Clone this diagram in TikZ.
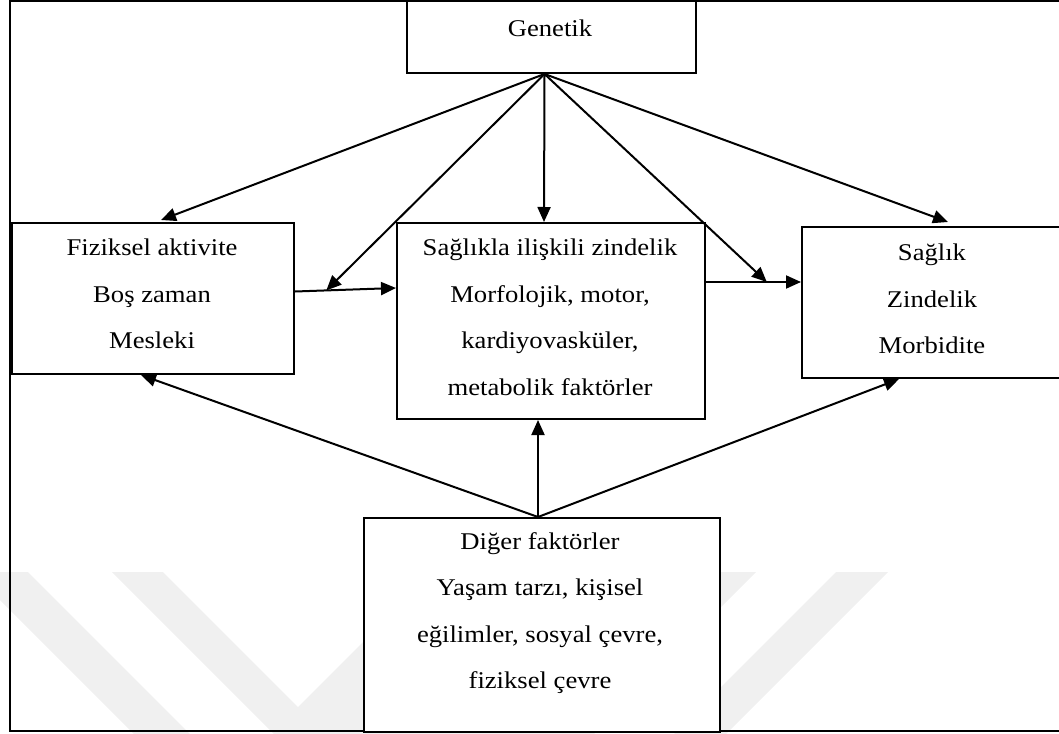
\documentclass[tikz,border=0pt]{standalone}
\usepackage{fontspec}
\setmainfont{Liberation Serif}[FakeStretch=1.11]
\usetikzlibrary{arrows.meta,calc}

\begin{document}
\begin{tikzpicture}[x=1pt,y=-1pt,
  box/.style={draw=black, line width=2pt, fill=white, inner sep=0pt, anchor=north west},
  lbl/.style={font=\fontsize{24}{46.5}\selectfont, align=center, inner sep=0pt},
  link/.style={line width=2pt, -{Triangle[length=15pt,width=13pt]}},
  wmshade/.style={fill=black!6, draw=none}]

\useasboundingbox (0,0) rectangle (1059,733);

% faint background chevrons and the outer frame
\begin{scope}
  \clip (0,0) rectangle (1059,733);
  \fill[wmshade] (-28,572) -- (28,572) -- (198,742) -- (142,742) -- cycle;
  \fill[wmshade] (112,572) -- (163,572) -- (298,707) -- (433,572) -- (756,572)
                 -- (586,742) -- (282,742) -- cycle;
  \fill[wmshade] (836,572) -- (888,572) -- (718,742) -- (666,742) -- cycle;
  \draw[line width=2pt] (10,1) rectangle (1070,731);
\end{scope}

% boxes
\node[box, minimum width=289pt, minimum height=72pt]  (gen) at (406,0)   {};
\node[box, minimum width=282pt, minimum height=151pt] (fiz) at (11,222)  {};
\node[box, minimum width=308pt, minimum height=196pt] (sag) at (396,222) {};
\node[box, minimum width=260pt, minimum height=151pt] (slk) at (801,226) {};
\node[box, minimum width=356pt, minimum height=214pt] (dig) at (363,517) {};

% box texts
\node[lbl] (gen-t) at (550,28)    {Genetik};
\node[lbl] (fiz-t) at (152,294)   {Fiziksel aktivite\\Boş zaman\\Mesleki};
\node[lbl] (sag-t) at (550,317.5) {Sağlıkla ilişkili zindelik\\Morfolojik, motor,\\kardiyovasküler,\\metabolik faktörler};
\node[lbl] (slk-t) at (932,299)   {Sağlık\\Zindelik\\Morbidite};
\node[lbl] (dig-t) at (540,613)   {Diğer faktörler\\Yaşam tarzı, kişisel\\eğilimler, sosyal çevre,\\fiziksel çevre};

% horizontal links and the points where genetic influences meet them
\path ([yshift=7pt]fiz.east) -- ([yshift=33pt]sag.west) coordinate[pos=0.31] (j1);
\path ([yshift=39pt]sag.east) -- ([yshift=20.5pt]slk.west) coordinate[pos=0.64] (j2);
\draw[link] ([yshift=7pt]fiz.east) -- ([yshift=33pt]sag.west);
\draw[link] ([yshift=39pt]sag.east) -- ([yshift=20.5pt]slk.west);

% genetic influences
\draw[link] ([xshift=-7pt]gen.south) -- ([xshift=8pt,yshift=2pt]fiz.north);
\draw[link] ([xshift=-7pt]gen.south) -- (j1);
\draw[link] ([xshift=-7pt]gen.south) -- ([xshift=-7pt]sag.north);
\draw[link] ([xshift=-7pt]gen.south) -- (j2);
\draw[link] ([xshift=-7pt]gen.south) -- ([xshift=16pt,yshift=4pt]slk.north);

% other factors
\draw[link] ([xshift=-4pt]dig.north) -- ([xshift=-12pt]fiz.south);
\draw[link] ([xshift=-4pt]dig.north) -- ([xshift=-13pt]sag.south);
\draw[link] ([xshift=-4pt]dig.north) -- ([xshift=-33pt]slk.south);
\end{tikzpicture}
\end{document}
